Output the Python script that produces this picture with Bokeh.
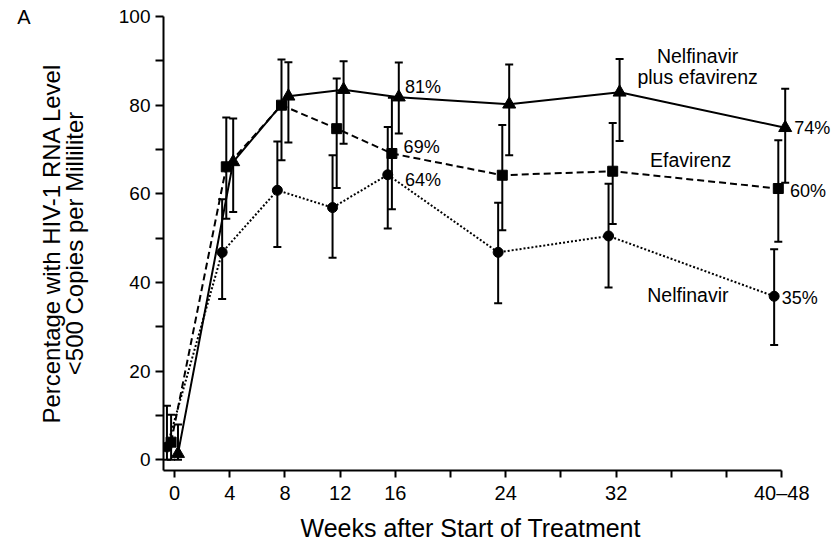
from bokeh.plotting import figure
from bokeh.models import (FixedTicker, Whisker, TeeHead, ColumnDataSource, Label,
                          LinearAxis, Title)
from bokeh.transform import dodge
from bokeh.embed import file_html
from bokeh.resources import INLINE

# ---- data ----
weeks = [0, 4, 8, 12, 16, 24, 32, 44]

combo_vals = [1.4, 67.2, 82.0, 83.5, 81.8, 80.2, 82.9, 74.9]
combo_upper = [8.0, 77.0, 89.7, 89.9, 89.6, 89.2, 90.4, 83.7]
combo_lower = [0.0, 55.9, 71.6, 71.3, 73.6, 68.7, 71.9, 62.5]

efav_vals = [4.0, 66.1, 80.0, 74.7, 69.1, 64.2, 65.1, 61.2]
efav_upper = [10.2, 77.2, 90.3, 86.0, 81.7, 75.5, 76.0, 72.1]
efav_lower = [0.0, 54.4, 67.6, 61.3, 56.5, 51.8, 53.2, 49.2]

nelf_vals = [2.9, 46.8, 60.8, 56.9, 64.3, 46.8, 50.5, 36.9]
nelf_upper = [12.2, 58.8, 71.8, 68.7, 75.1, 58.0, 62.3, 47.5]
nelf_lower = [0.0, 36.3, 48.0, 45.6, 52.2, 35.3, 38.9, 25.9]

x_tick_values = [0, 4, 8, 12, 16, 20, 24, 28, 32, 36, 40, 44]
x_tick_labels = ["0", "4", "8", "12", "16", "", "24", "", "32", "", "", "40\u201348"]
y_tick_values = [0, 10, 20, 30, 40, 50, 60, 70, 80, 90, 100]
y_tick_labels = ["0", "", "20", "", "40", "", "60", "", "80", "", "100"]

end_labels = ["81%", "69%", "64%", "74%", "60%", "35%"]
end_label_x = [16.7, 16.6, 16.7, 44.9, 44.6, 44.0]
end_label_y = [84.0, 70.6, 63.1, 74.8, 60.7, 36.6]

series_names = ["Nelfinavir", "plus efavirenz", "Efavirenz", "Nelfinavir"]
name_x = [37.9, 37.9, 37.4, 37.2]
name_y = [91.2, 86.4, 67.6, 37.1]

panel_letter = "A"
x_title = "Weeks after Start of Treatment"
y_title = "Percentage with HIV-1 RNA Level\n<500 Copies per Milliliter"

FONT = "Liberation Sans"

p = figure(width=833, height=546, x_range=(-0.8, 47.75), y_range=(-2.4, 100),
           output_backend="svg", toolbar_location=None,
           min_border_left=163, min_border_right=0,
           min_border_top=16, min_border_bottom=75)
p.outline_line_color = None
p.grid.visible = False
p.background_fill_color = "white"
p.border_fill_color = "white"

# axes
for ax in (p.xaxis[0], p.yaxis[0]):
    ax.axis_line_width = 2
    ax.axis_line_color = "black"
    ax.major_tick_line_width = 2
    ax.major_tick_line_color = "black"
    ax.major_tick_in = 0
    ax.minor_tick_line_color = None
    ax.major_label_text_color = "black"
    ax.axis_label_text_color = "black"
    ax.axis_label_text_font = FONT
    ax.axis_label_text_font_style = "normal"

p.xaxis.bounds = (-0.8, 44)
p.xaxis.ticker = FixedTicker(ticks=x_tick_values)
p.xaxis.major_label_overrides = {v: l for v, l in zip(x_tick_values, x_tick_labels)}
p.xaxis.major_tick_out = 7
p.xaxis.major_label_text_font = FONT
p.xaxis.major_label_text_font_size = "20px"
p.xaxis.major_label_standoff = 4

p.add_layout(Title(text=x_title, align="left", offset=137, vertical_align="bottom",
                   standoff=10, text_font=FONT, text_font_size="25px",
                   text_font_style="normal", text_color="black"), "below")

p.yaxis.ticker = FixedTicker(ticks=y_tick_values)
p.yaxis.major_label_overrides = {v: l for v, l in zip(y_tick_values, y_tick_labels)}
p.yaxis.major_tick_out = 8
p.yaxis.major_label_text_font = FONT
p.yaxis.major_label_text_font_size = "19px"
p.yaxis.major_label_standoff = 5
p.yaxis.axis_label = y_title
p.yaxis.axis_label_text_font_size = "24px"
p.yaxis.axis_label_text_line_height = 0.85
p.yaxis.axis_label_standoff = 28

# panel letter as an extra, line-less left axis
letter_axis = LinearAxis(ticker=FixedTicker(ticks=[100]),
                         major_label_overrides={100: panel_letter},
                         axis_line_color=None, major_tick_line_color=None,
                         minor_tick_line_color=None, major_tick_out=0, major_tick_in=0,
                         major_label_standoff=4, major_label_text_font=FONT,
                         major_label_text_font_size="20px",
                         major_label_text_color="black")
p.add_layout(letter_axis, "left")

series = [
    (nelf_vals, nelf_upper, nelf_lower, -0.55, "circle", 10, "2 2"),
    (efav_vals, efav_upper, efav_lower, -0.25, "square", 10, "7 4"),
    (combo_vals, combo_upper, combo_lower, 0.25, "triangle", 13, "solid"),
]

for vals, up, lo, off, marker, size, dash in series:
    src = ColumnDataSource(dict(x=weeks, y=vals, upper=up, lower=lo))
    xs = dodge("x", off, range=p.x_range)
    w = Whisker(source=src, base=xs, upper="upper", lower="lower",
                dimension="height", line_width=2, line_color="black",
                upper_head=TeeHead(size=8, line_width=2, line_color="black"),
                lower_head=TeeHead(size=8, line_width=2, line_color="black"))
    p.add_layout(w)
    p.line(x=xs, y="y", source=src, line_width=2, line_color="black", line_dash=dash)
    p.scatter(x=xs, y="y", source=src, marker=marker, size=size,
              fill_color="black", line_color="black")

for t, x, y in zip(end_labels, end_label_x, end_label_y):
    p.add_layout(Label(x=x, y=y, text=t, text_font=FONT, text_font_size="18px",
                       text_align="left", text_baseline="middle", text_color="black"))

for t, x, y in zip(series_names, name_x, name_y):
    p.add_layout(Label(x=x, y=y, text=t, text_font=FONT, text_font_size="19.5px",
                       text_align="center", text_baseline="middle", text_color="black"))

open("out.html", "w").write(file_html(p, INLINE))
